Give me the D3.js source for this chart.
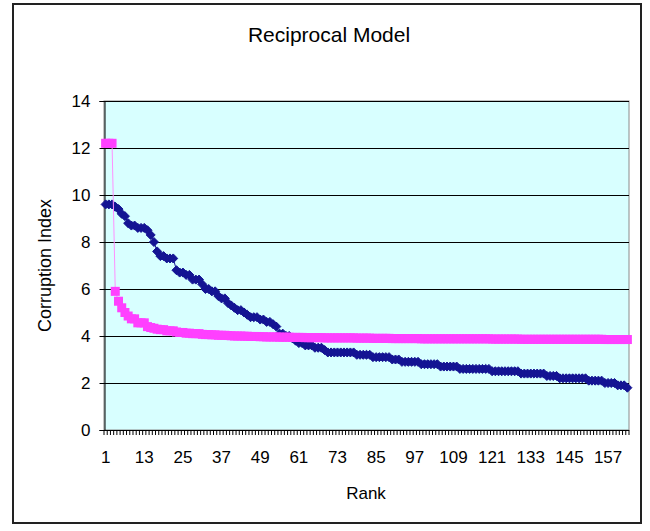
<!DOCTYPE html>
<html>
<head>
<meta charset="utf-8">
<script src="https://cdn.jsdelivr.net/npm/d3@7/dist/d3.min.js"></script>
<style>
  html, body { margin: 0; padding: 0; background: #fff; }
  svg { display: block; font-family: "Liberation Sans", Arial, sans-serif; }
</style>
</head>
<body>
<svg id="chart" width="650" height="531"></svg>
<script>
// ---- data ----
const title = "Reciprocal Model";
const xTitle = "Rank";
const yTitle = "Corruption Index";
const yTicks = [0, 2, 4, 6, 8, 10, 12, 14];
const xTickLabels = ["1","13","25","37","49","61","73","85","97","109","121","133","145","157"];

// observed Corruption Index, in rank order (163 countries)
const corruption = [
  9.6,9.6,9.6,9.5,9.4,9.2,9.1,8.8,8.7,8.7,
  8.6,8.6,8.6,8.5,8.3,8.0,7.6,7.4,7.4,7.3,
  7.3,7.3,6.8,6.7,6.7,6.6,6.6,6.4,6.4,6.4,
  6.2,6.0,6.0,5.9,5.9,5.7,5.6,5.6,5.4,5.3,
  5.2,5.1,5.1,5.0,4.9,4.8,4.8,4.8,4.7,4.7,
  4.6,4.6,4.5,4.4,4.1,4.1,4.0,4.0,3.9,3.8,
  3.7,3.7,3.6,3.6,3.6,3.5,3.5,3.5,3.4,3.3,
  3.3,3.3,3.3,3.3,3.3,3.3,3.3,3.3,3.2,3.2,
  3.2,3.2,3.2,3.1,3.1,3.1,3.1,3.1,3.1,3.0,
  3.0,3.0,2.9,2.9,2.9,2.9,2.9,2.9,2.8,2.8,
  2.8,2.8,2.8,2.8,2.7,2.7,2.7,2.7,2.7,2.7,
  2.6,2.6,2.6,2.6,2.6,2.6,2.6,2.6,2.6,2.6,
  2.5,2.5,2.5,2.5,2.5,2.5,2.5,2.5,2.5,2.4,
  2.4,2.4,2.4,2.4,2.4,2.4,2.4,2.3,2.3,2.3,
  2.3,2.2,2.2,2.2,2.2,2.2,2.2,2.2,2.2,2.2,
  2.1,2.1,2.1,2.1,2.1,2.0,2.0,2.0,2.0,1.9,
  1.9,1.9,1.8
];

// fitted reciprocal model values, in the same order
const fitted = [
  12.2,12.2,12.2,5.9,5.48,5.2,5.0,4.85,4.73,4.73,
  4.56,4.56,4.56,4.4,4.36,4.33,4.29,4.27,4.27,4.22,
  4.22,4.22,4.17,4.15,4.15,4.12,4.12,4.1,4.1,4.1,
  4.07,4.06,4.06,4.05,4.05,4.03,4.03,4.03,4.02,4.01,
  4.0,4.0,4.0,3.99,3.99,3.98,3.98,3.98,3.97,3.97,
  3.96,3.96,3.96,3.96,3.95,3.95,3.95,3.95,3.94,3.94,
  3.94,3.94,3.93,3.93,3.93,3.93,3.93,3.93,3.92,3.92,
  3.92,3.92,3.92,3.92,3.92,3.92,3.92,3.92,3.91,3.91,
  3.91,3.91,3.91,3.9,3.9,3.9,3.9,3.9,3.9,3.89,
  3.89,3.89,3.89,3.89,3.89,3.89,3.89,3.89,3.88,3.88,
  3.88,3.88,3.88,3.88,3.88,3.88,3.88,3.88,3.88,3.88,
  3.88,3.88,3.88,3.88,3.88,3.88,3.88,3.88,3.88,3.88,
  3.87,3.87,3.87,3.87,3.87,3.87,3.87,3.87,3.87,3.86,
  3.86,3.86,3.86,3.86,3.86,3.86,3.86,3.86,3.86,3.86,
  3.86,3.86,3.86,3.86,3.86,3.86,3.86,3.86,3.86,3.86,
  3.86,3.86,3.86,3.86,3.86,3.85,3.85,3.85,3.85,3.85,
  3.85,3.85,3.85
];

const categories = corruption.map((d, i) => String(i + 1));

// ---- layout ----
const svg = d3.select("#chart");
const plot = { left: 104, right: 629, top: 101, bottom: 430 };

// chart area border
svg.append("rect")
  .attr("x", 13).attr("y", 4).attr("width", 628).attr("height", 519)
  .attr("fill", "#fff").attr("stroke", "#222").attr("stroke-width", 2);

const x = d3.scaleBand().domain(categories).range([plot.left, plot.right]).padding(0);
const y = d3.scaleLinear().domain([0, 14]).range([plot.bottom, plot.top]);

// plot background
svg.append("rect")
  .attr("x", plot.left).attr("y", plot.top)
  .attr("width", plot.right - plot.left).attr("height", plot.bottom - plot.top)
  .attr("fill", "#D8FFFF").attr("stroke", "#8a8a8a").attr("stroke-width", 1);

// gridlines
svg.append("g").selectAll("line").data(yTicks.filter(d => d > 0)).join("line")
  .attr("x1", plot.left).attr("x2", plot.right)
  .attr("y1", d => Math.round(y(d)) + 0.5).attr("y2", d => Math.round(y(d)) + 0.5)
  .attr("stroke", "#000").attr("stroke-width", 1);

// y axis
const yAxis = d3.axisLeft(y).tickValues(yTicks).tickSize(5).tickPadding(9).tickFormat(d3.format("d"));
const gy = svg.append("g").attr("transform", `translate(${plot.left + 0.5},0)`).call(yAxis);
gy.select(".domain").attr("stroke", "#000");
gy.selectAll(".tick line").attr("stroke", "#000");
gy.selectAll(".tick text").attr("font-size", 17).attr("fill", "#000")
  .attr("font-family", "Liberation Sans, Arial, sans-serif");

// x axis: tick marks at category boundaries
const boundaries = d3.range(categories.length + 1).map(i => plot.left + i * x.step());
svg.append("g").selectAll("line").data(boundaries).join("line")
  .attr("x1", d => d).attr("x2", d => d)
  .attr("y1", plot.bottom).attr("y2", plot.bottom + 5)
  .attr("stroke", "#000").attr("stroke-width", 1);
svg.append("line")
  .attr("x1", plot.left).attr("x2", plot.right)
  .attr("y1", plot.bottom + 0.5).attr("y2", plot.bottom + 0.5)
  .attr("stroke", "#000").attr("stroke-width", 1);

// x tick labels
svg.append("g").selectAll("text").data(xTickLabels).join("text")
  .attr("x", d => x(d) + x.bandwidth() / 2)
  .attr("y", 463)
  .attr("text-anchor", "middle")
  .attr("font-size", 17).attr("fill", "#000")
  .text(d => d);

const cx = (d, i) => x(categories[i]) + x.bandwidth() / 2;

// series 1: observed (navy diamonds)
svg.append("path")
  .datum(corruption)
  .attr("fill", "none").attr("stroke", "#141493").attr("stroke-width", 1)
  .attr("d", d3.line().x(cx).y(d => y(d)));
const diamond = d3.symbol().type(d3.symbolDiamond2).size(52);
svg.append("g").selectAll("path").data(corruption).join("path")
  .attr("transform", (d, i) => `translate(${cx(d, i)},${y(d)})`)
  .attr("d", diamond)
  .attr("fill", "#141493").attr("stroke", "#141493").attr("stroke-width", 1);

// series 2: fitted (magenta squares)
svg.append("path")
  .datum(fitted)
  .attr("fill", "none").attr("stroke", "#FF90FF").attr("stroke-width", 1)
  .attr("d", d3.line().x(cx).y(d => y(d)));
svg.append("g").selectAll("rect").data(fitted).join("rect")
  .attr("x", (d, i) => cx(d, i) - 4.5)
  .attr("y", d => y(d) - 4.5)
  .attr("width", 9).attr("height", 9)
  .attr("fill", "#FF40FF");

// titles
svg.append("text")
  .attr("x", 329).attr("y", 42)
  .attr("text-anchor", "middle")
  .attr("font-size", 21).attr("fill", "#000")
  .text(title);

svg.append("text")
  .attr("x", 366).attr("y", 499)
  .attr("text-anchor", "middle")
  .attr("font-size", 17).attr("fill", "#000")
  .text(xTitle);

svg.append("text")
  .attr("transform", `translate(51,${(plot.top + plot.bottom) / 2}) rotate(-90)`)
  .attr("text-anchor", "middle")
  .attr("font-size", 18).attr("fill", "#000")
  .text(yTitle);
</script>
</body>
</html>
